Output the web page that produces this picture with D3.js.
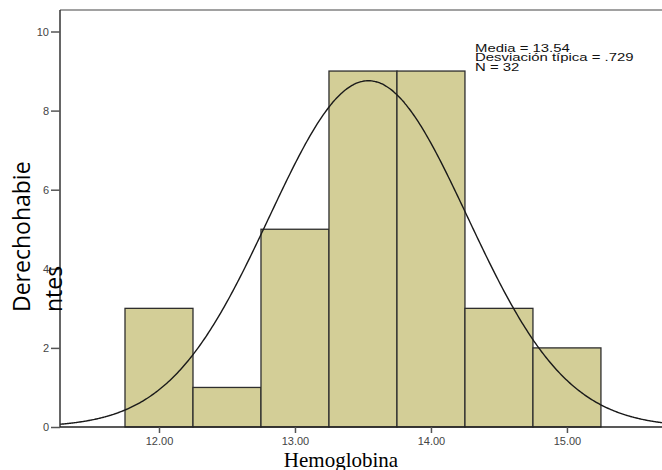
<!DOCTYPE html>
<html><head><meta charset="utf-8">
<script src="https://cdn.jsdelivr.net/npm/d3@7"></script>
<style>body{margin:0;background:#fff}svg{display:block}</style>
</head><body>
<svg id="c" width="662" height="470"></svg>
<script>
const binStarts = [11.75, 12.25, 12.75, 13.25, 13.75, 14.25, 14.75];
const binWidth = 0.5;
const counts = [3, 1, 5, 9, 9, 3, 2];
const xTicks = [12, 13, 14, 15];
const xTickLabels = ["12.00", "13.00", "14.00", "15.00"];
const yTicks = [0, 2, 4, 6, 8, 10];
const statsLines = ["Media = 13.54", "Desviación típica = .729", "N = 32"];
const mean = 13.54, sd = 0.729, n = 32;
const xDomain = [11.272, 15.699];

(function () {
const svg = d3.select("#c");
const pLeft = 60, pBottom = 427, pTop = 10, pRight = 662;
const x = d3.scaleLinear().domain(xDomain).range([pLeft, pRight]);
const y = d3.scaleLinear().domain([0, 10]).range([pBottom, 31.5]);

// bars
svg.append("g").selectAll("rect").data(binStarts).join("rect")
  .attr("x", (d) => x(d))
  .attr("y", (d, i) => y(counts[i]))
  .attr("width", (d) => x(d + binWidth) - x(d))
  .attr("height", (d, i) => y(0) - y(counts[i]))
  .attr("fill", "#d3ce97")
  .attr("stroke", "#2e2e2e")
  .attr("stroke-width", 1.3);

// normal curve
const pts = d3.range(0, 401).map(i => {
  const v = xDomain[0] + (xDomain[1] - xDomain[0]) * i / 400;
  const dens = n * binWidth / (sd * Math.sqrt(2 * Math.PI)) * Math.exp(-0.5 * ((v - mean) / sd) ** 2);
  return [v, dens];
});
svg.append("path").datum(pts)
  .attr("d", d3.line().x(d => x(d[0])).y(d => y(d[1])).curve(d3.curveBasis))
  .attr("fill", "none").attr("stroke", "#1a1a1a").attr("stroke-width", 1.4);

// frame top
svg.append("line").attr("x1", pLeft).attr("x2", pRight).attr("y1", pTop).attr("y2", pTop)
  .attr("stroke", "#444").attr("stroke-width", 1.2);

// y axis
const ya = svg.append("g").attr("transform", `translate(${pLeft},0)`)
  .call(d3.axisLeft(y).tickValues(yTicks).tickSize(9).tickPadding(2).tickFormat(d3.format("d")));
ya.select(".domain").attr("d", `M0,${pTop}V${pBottom}`).attr("stroke", "#333").attr("stroke-width", 1.5);
ya.selectAll(".tick line").attr("stroke", "#555").attr("stroke-width", 1.5);
ya.selectAll(".tick text").attr("font-family", "Liberation Sans, Arial, sans-serif").attr("font-size", 11).attr("fill", "#444");

// x axis
const xa = svg.append("g").attr("transform", `translate(0,${pBottom})`)
  .call(d3.axisBottom(x).tickValues(xTicks).tickSize(6).tickPadding(4).tickFormat((d, i) => xTickLabels[i]));
xa.select(".domain").attr("d", `M${pLeft},0H${pRight}`).attr("stroke", "#222").attr("stroke-width", 1.5);
xa.selectAll(".tick line").attr("stroke", "#555").attr("stroke-width", 1.5);
xa.selectAll(".tick text").attr("font-family", "Liberation Sans, Arial, sans-serif").attr("font-size", 11).attr("fill", "#444");

// stats (horizontally stretched like the reference)
const st = svg.append("text").attr("transform", "translate(475,0) scale(1.42,1)")
  .attr("font-family", "Liberation Sans, Arial, sans-serif").attr("font-size", 10.5).attr("fill", "#111");
statsLines.forEach((s, i) => st.append("tspan").attr("x", 0).attr("y", 52 + i * 9.5).text(s));

// x label
svg.append("text").attr("x", 341).attr("y", 467).attr("text-anchor", "middle")
  .attr("font-family", "Liberation Serif, Times New Roman, serif").attr("font-size", 21).attr("fill", "#000")
  .text("Hemoglobina");

// y label (two lines)
const yl = svg.append("text").attr("transform", "translate(0,312) rotate(-90)")
  .attr("font-family", "Open Sans, sans-serif").attr("font-size", 23).attr("fill", "#000");
yl.append("tspan").attr("x", 0).attr("y", 30).text("Derechohabie");
yl.append("tspan").attr("x", 0).attr("y", 62).text("ntes");
})();
</script>
</body></html>
